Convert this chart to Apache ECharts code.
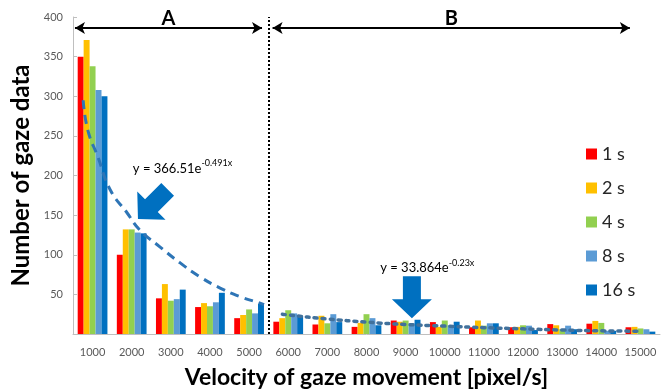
<!DOCTYPE html>
<html>
<head>
<meta charset="utf-8">
<script src="https://cdn.jsdelivr.net/npm/echarts@6/dist/echarts.min.js"></script>
<style>
  html, body { margin: 0; padding: 0; background: #fff; }
  #chart { width: 669px; height: 392px; }
</style>
</head>
<body>
<div id="chart"></div>
<script>
// velocity bins
const categories = ['1000', '2000', '3000', '4000', '5000', '6000', '7000', '8000',
  '9000', '10000', '11000', '12000', '13000', '14000', '15000'];

// gaze data counts per window length
const s1 = [350, 100, 45, 34, 20, 15.5, 12, 9, 17, 15, 8.5, 8.5, 12.5, 13, 8.5];
const s2 = [371, 132, 63, 39, 24, 20, 23, 14, 15.5, 9, 17, 9, 11, 16.5, 9];
const s4 = [338, 132, 42, 35, 31, 30, 13.5, 25, 17, 17, 10.5, 11, 6, 14, 7];
const s8 = [308, 128, 44, 40, 26, 26, 25, 20, 13.5, 11, 13.5, 10.5, 10.5, 4, 6];
const s16 = [300, 127, 56, 52, 38, 23, 15, 11, 18, 15.5, 13.5, 5, 6, 4, 3];

const seriesNames = ['1 s', '2 s', '4 s', '8 s', '16 s'];
const seriesColors = ['#FF0000', '#FFC000', '#92D050', '#5B9BD5', '#0070C0'];

// trendlines, x = category position (1 = 1000)
const trendA = [[0.76, 295], [0.88, 257], [1.14, 223], [1.45, 182], [1.88, 153], [2.21, 131],
  [2.72, 110], [3.23, 90], [3.75, 72], [4.26, 58], [4.77, 47], [5.28, 39], [5.38, 37]];
const trendB = [[5.85, 25], [6, 24], [7, 19], [8, 15], [9, 12], [10, 10], [11, 8],
  [12, 6.5], [13, 5], [14, 4], [15, 3.5]];

const font = 'Lato, "Open Sans", sans-serif';
const chart = echarts.init(document.getElementById('chart'));

const barSeries = [s1, s2, s4, s8, s16].map((d, i) => ({
  name: seriesNames[i],
  type: 'bar',
  data: d,
  barGap: '0%',
  barCategoryGap: '24%',
  itemStyle: { color: seriesColors[i] },
  xAxisIndex: 0,
  yAxisIndex: 0
}));

const option = {
  animation: false,
  textStyle: { fontFamily: font },
  grid: { left: 73, right: 9, top: 17, bottom: 58, outerBoundsMode: 'none', containLabel: false },
  legend: {
    data: seriesNames,
    orient: 'vertical',
    left: 581,
    top: 140,
    itemWidth: 11,
    itemHeight: 11,
    itemGap: 16,
    icon: 'rect',
    textStyle: { fontSize: 18, lineHeight: 18, color: '#262626', fontFamily: font }
  },
  xAxis: [{
    type: 'category',
    data: categories,
    name: 'Velocity of gaze movement [pixel/s]',
    nameLocation: 'middle',
    nameGap: 32,
    nameTextStyle: { fontSize: 23, fontWeight: 'bold', color: '#000' },
    axisLine: { lineStyle: { color: '#bfbfbf', width: 1 } },
    axisTick: { show: false },
    axisLabel: { fontSize: 11, color: '#595959', margin: 13, interval: 0 }
  }, {
    type: 'value',
    min: 0.5,
    max: 15.5,
    show: false
  }],
  yAxis: {
    type: 'value',
    min: 0,
    max: 400,
    interval: 50,
    name: 'Number of gaze data',
    nameLocation: 'middle',
    nameGap: 37,
    nameTextStyle: { fontSize: 24, fontWeight: 'bold', color: '#000' },
    axisLine: { show: true, lineStyle: { color: '#bfbfbf' } },
    axisTick: { show: true, inside: true, length: 4, lineStyle: { color: '#bfbfbf' } },
    splitLine: { show: false },
    axisLabel: { fontSize: 11, color: '#595959', margin: 10, showMinLabel: false }
  },
  series: barSeries.concat([{
    name: 'trend A',
    type: 'line',
    xAxisIndex: 1,
    yAxisIndex: 0,
    data: trendA,
    smooth: true,
    symbol: 'none',
    z: 5,
    lineStyle: { color: '#2E75B6', width: 3, type: [9, 6] },
    markLine: {
      silent: true,
      symbol: ['arrow', 'arrow'],
      symbolSize: [9, 10],
      lineStyle: { color: '#000', width: 2, type: 'solid' },
      label: { position: 'middle', fontSize: 20, fontWeight: 'bold', color: '#000', distance: 0 },
      data: [
        [{ coord: [0.55, 386], label: { formatter: 'A' } }, { coord: [5.33, 386] }],
        [{ coord: [5.6, 386], label: { formatter: 'B' } }, { coord: [14.73, 386] }]
      ]
    }
  }, {
    name: 'trend B',
    type: 'line',
    xAxisIndex: 1,
    yAxisIndex: 0,
    data: trendB,
    smooth: true,
    symbol: 'none',
    z: 5,
    lineStyle: { color: '#41719C', width: 3.5, type: [3, 5], cap: 'round' },
    markLine: {
      silent: true,
      symbol: 'none',
      label: { show: false },
      lineStyle: { color: '#000', width: 2, type: [2, 2] },
      data: [{ xAxis: 5.5 }]
    }
  }])
};

chart.setOption(option);

// big blue arrows and the fit equations, anchored to data coords
function arrowPoints(tip, dx, dy) {
  const L = 42, hl = 19, hw = 20, sw = 9;
  const nx = -dy, ny = dx;
  const bx = tip[0] - dx * hl, by = tip[1] - dy * hl;
  const tx = tip[0] - dx * L, ty = tip[1] - dy * L;
  return [
    tip,
    [bx + nx * hw, by + ny * hw],
    [bx + nx * sw, by + ny * sw],
    [tx + nx * sw, ty + ny * sw],
    [tx - nx * sw, ty - ny * sw],
    [bx - nx * sw, by - ny * sw],
    [bx - nx * hw, by - ny * hw]
  ];
}
const px = p => chart.convertToPixel({ xAxisIndex: 1, yAxisIndex: 0 }, p);
const tip1 = px([2.16, 145]);
const tip2 = px([9.16, 20]);
const eq1 = px([2.03, 209]);
const eq2 = px([8.35, 83]);
const eqRich = {
  a: { fontSize: 13, lineHeight: 20, color: '#000', fontFamily: font },
  b: { fontSize: 9, lineHeight: 20, verticalAlign: 'top', color: '#000', fontFamily: font }
};

chart.setOption({
  graphic: [
    { type: 'polygon', z: 10, shape: { points: arrowPoints(tip1, -Math.SQRT1_2, Math.SQRT1_2) }, style: { fill: '#0070C0' } },
    { type: 'polygon', z: 10, shape: { points: arrowPoints(tip2, 0, 1) }, style: { fill: '#0070C0' } },
    { type: 'text', z: 10, x: eq1[0], y: eq1[1], style: { text: '{a|y = 366.51e}{b|-0.491x}', rich: eqRich, verticalAlign: 'middle' } },
    { type: 'text', z: 10, x: eq2[0], y: eq2[1], style: { text: '{a|y = 33.864e}{b|-0.23x}', rich: eqRich, verticalAlign: 'middle' } }
  ]
});
</script>
</body>
</html>
